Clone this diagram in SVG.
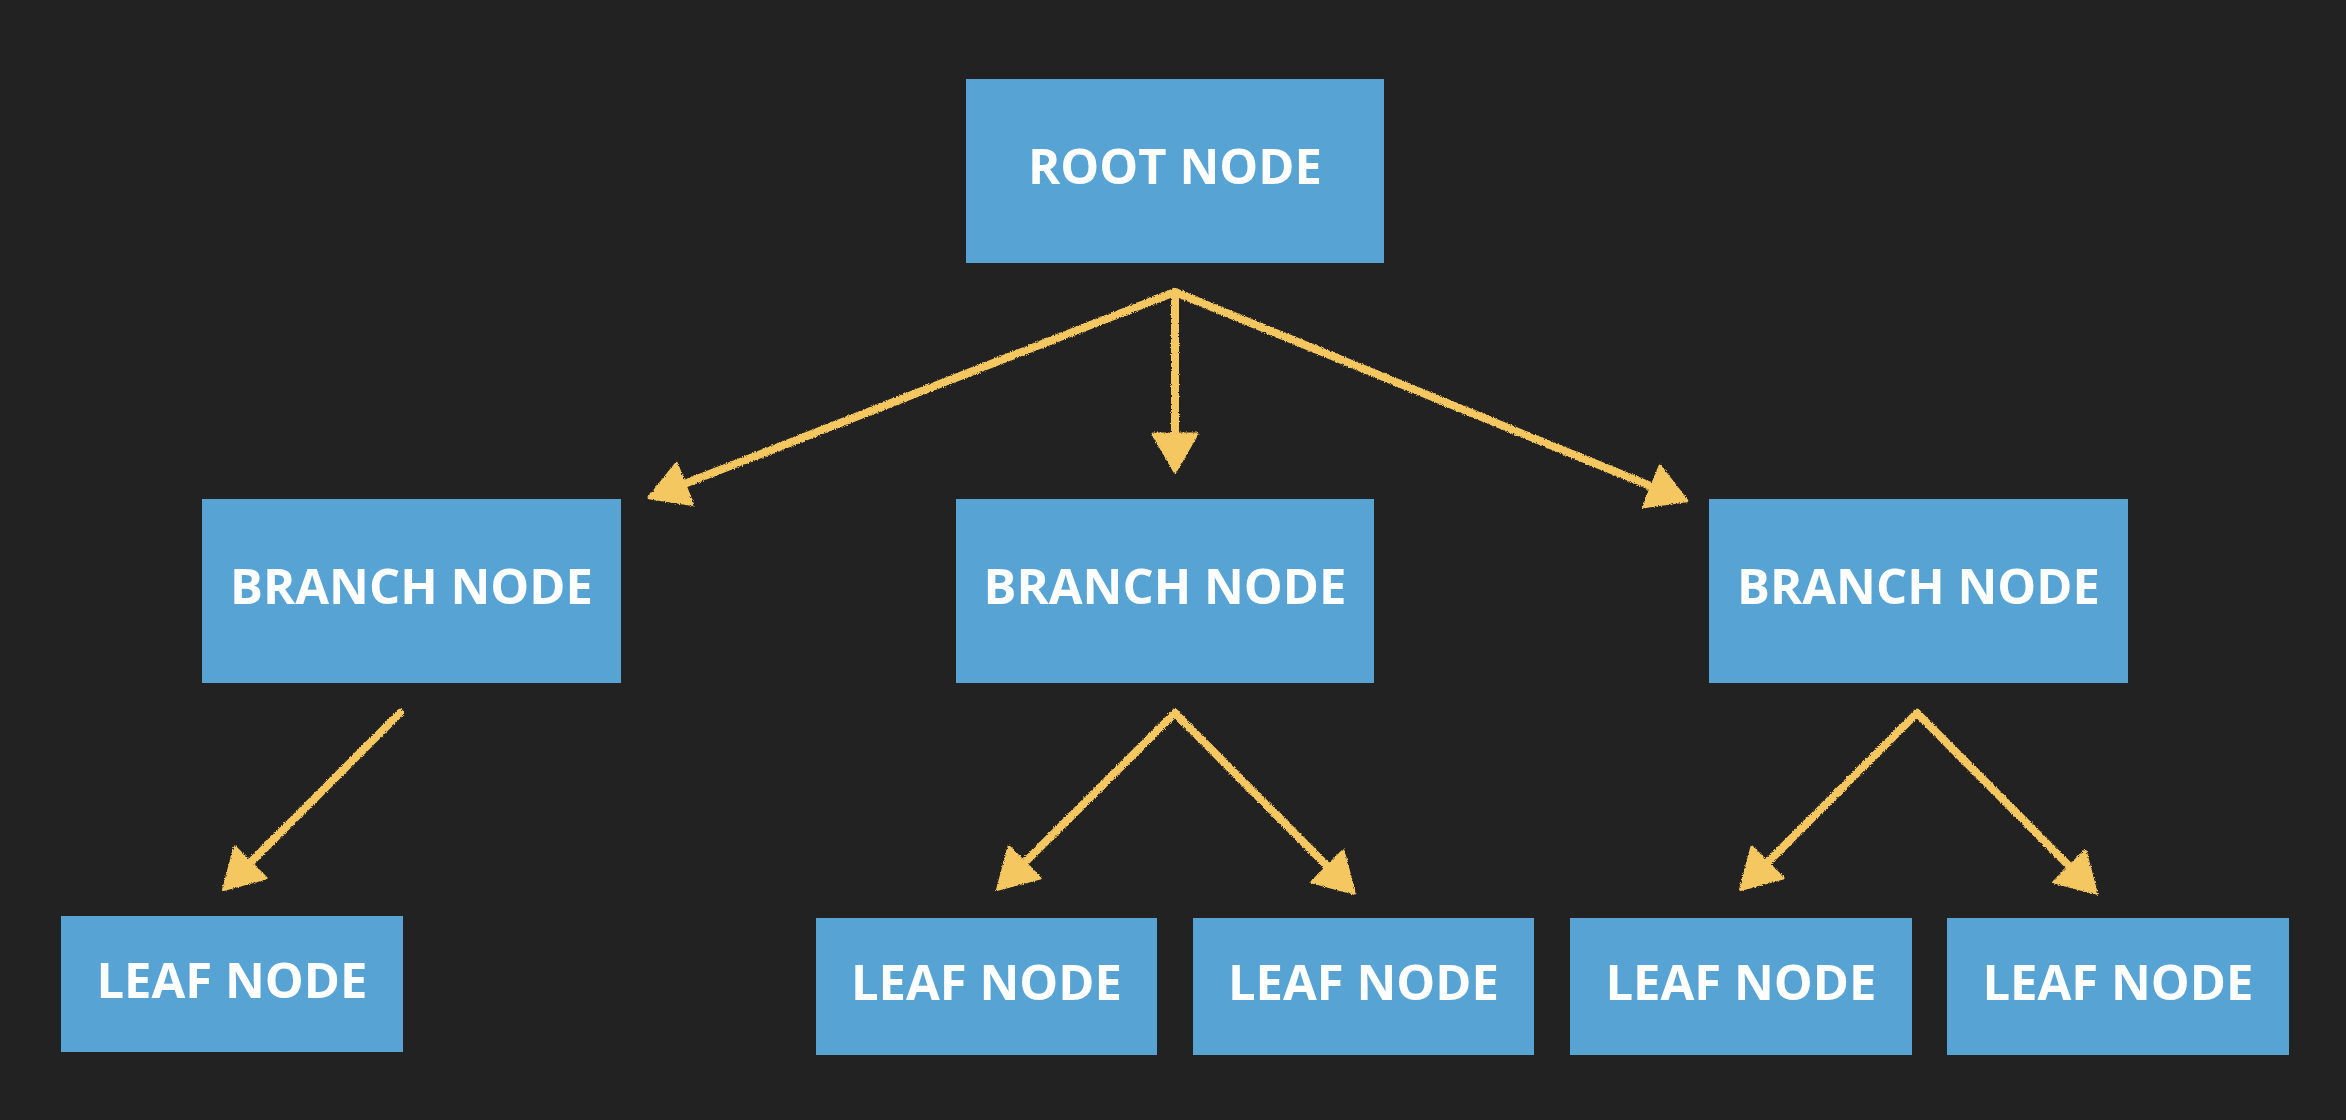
<svg xmlns="http://www.w3.org/2000/svg" width="2346" height="1120" viewBox="0 0 2346 1120">
  <style>
    .node rect { fill: #56a3d4; }
    .node text { fill: #ffffff; font-family: "Open Sans", "Noto Sans", "Liberation Sans", sans-serif; font-weight: 700; font-size: 49px; text-anchor: middle; }
    .conn { fill: none; stroke: #f5c761; stroke-width: 8; stroke-linecap: round; marker-end: url(#head); }
  </style>
  <defs>
    <marker id="head" markerUnits="userSpaceOnUse" markerWidth="44" markerHeight="50" viewBox="-3 -3 44 50" refX="6" refY="22" orient="auto">
      <path d="M0,0 L38,22 L0,44 Z" fill="#f5c761" stroke="#f5c761" stroke-width="3" stroke-linejoin="round"/>
    </marker>
    <filter id="chalk" x="-5%" y="-5%" width="110%" height="110%">
      <feTurbulence type="fractalNoise" baseFrequency="0.9" numOctaves="2" seed="3" result="noise"/>
      <feDisplacementMap in="SourceGraphic" in2="noise" scale="3.5" xChannelSelector="R" yChannelSelector="G"/>
    </filter>
  </defs>
  <rect width="2346" height="1120" fill="#222222"/>

  <g id="connectors" filter="url(#chalk)">
    <path class="conn" d="M1175,292 L678.9,486.1"/>
    <path class="conn" d="M1175,292 L1175,440"/>
    <path class="conn" d="M1175,292 L1657.2,488.7"/>
    <path class="conn" d="M400,713 L246.2,866.8"/>
    <path class="conn" d="M1175,713 L1020.3,866.8"/>
    <path class="conn" d="M1175,713 L1331.8,870.7"/>
    <path class="conn" d="M1917,713 L1763.2,866.8"/>
    <path class="conn" d="M1917,713 L2073.8,870.7"/>
  </g>

  <g id="root" class="node">
    <rect x="966" y="79" width="418" height="184"/>
    <text x="1175" y="184">ROOT NODE</text>
  </g>
  <g id="branch-left" class="node">
    <rect x="202" y="499" width="419" height="184"/>
    <text x="411.5" y="604">BRANCH NODE</text>
  </g>
  <g id="branch-middle" class="node">
    <rect x="956" y="499" width="418" height="184"/>
    <text x="1165" y="604">BRANCH NODE</text>
  </g>
  <g id="branch-right" class="node">
    <rect x="1709" y="499" width="419" height="184"/>
    <text x="1918.5" y="604">BRANCH NODE</text>
  </g>
  <g id="leaf-1" class="node">
    <rect x="61" y="916" width="342" height="136"/>
    <text x="232" y="998">LEAF NODE</text>
  </g>
  <g id="leaf-2" class="node">
    <rect x="816" y="918" width="341" height="137"/>
    <text x="986.5" y="1000">LEAF NODE</text>
  </g>
  <g id="leaf-3" class="node">
    <rect x="1193" y="918" width="341" height="137"/>
    <text x="1363.5" y="1000">LEAF NODE</text>
  </g>
  <g id="leaf-4" class="node">
    <rect x="1570" y="918" width="342" height="137"/>
    <text x="1741" y="1000">LEAF NODE</text>
  </g>
  <g id="leaf-5" class="node">
    <rect x="1947" y="918" width="342" height="137"/>
    <text x="2118" y="1000">LEAF NODE</text>
  </g>
</svg>
